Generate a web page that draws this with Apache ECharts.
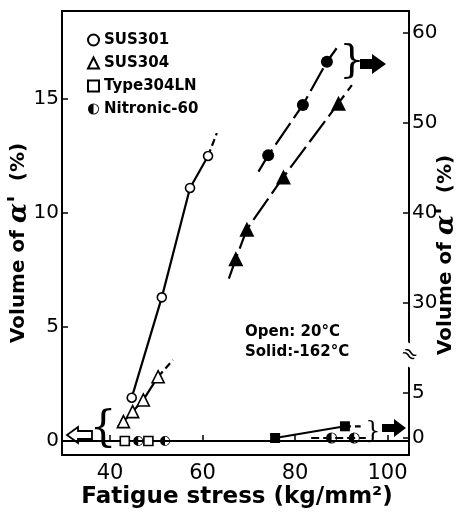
<!DOCTYPE html>
<html>
<head>
<meta charset="utf-8">
<script src="https://cdn.jsdelivr.net/npm/echarts@6/dist/echarts.min.js"></script>
<style>
  html, body { margin: 0; padding: 0; background: #fff; }
  #chart { width: 461px; height: 516px; }
</style>
</head>
<body>
<div id="chart"></div>
<script>
// tick labels
const xTicks = [40, 60, 80, 100];
const leftTicks = [0, 5, 10, 15];
const rightUpperTicks = [30, 40, 50, 60];
const rightLowerTicks = [0, 5];

// Open: 20 C  (left axis, %)
const sus301Open = [[44.7, 1.9], [51.2, 6.3], [57.3, 11.1], [61.2, 12.5]];
const sus304Open = [[42.9, 0.85], [44.9, 1.29], [47.2, 1.8], [50.4, 2.82]];
const ln304Open = [[43.2, 0], [48.3, 0]];
const nitronicOpen = [[46.1, 0], [51.9, 0]];

// Solid: -162 C  (right axis, %)
const sus301Solid = [[74.2, 46.4], [81.7, 52.0], [86.9, 56.8]];
const sus304Solid = [[67.2, 34.9], [69.6, 38.2], [77.5, 44.0], [89.4, 52.2]];
const ln304Solid = [[75.7, 0], [90.8, 1.3]];
const nitronicSolid = [[87.9, 0], [92.8, 0]];

// hand-drawn curves
const sus301OpenCurve = [[44.7, 1.9], [51.2, 6.3], [57.3, 11.1], [61.2, 12.5]];
const sus301OpenTail = [[61.2, 12.5], [63.1, 13.5]];
const sus304OpenCurve = [[41.7, 0.63], [42.9, 0.85], [44.9, 1.29], [47.2, 1.8], [50.4, 2.82]];
const sus304OpenTail = [[50.4, 2.82], [53.6, 3.55]];
const ln304OpenCurve = [[40.9, 0], [51.9, 0]];
const ln304OpenTail = [[51.9, 0], [55.1, 0]];
const sus301SolidCurve = [[72.1, 44.6], [74.2, 46.4], [81.7, 52.0], [86.9, 56.8], [89.0, 58.3]];
const sus304SolidCurve = [[65.7, 32.7], [67.2, 34.9], [69.6, 38.2], [77.5, 44.0], [89.4, 52.2], [92.3, 54.2]];
const ln304SolidCurve = [[75.7, 0], [90.8, 1.3]];
const ln304SolidTail = [[90.8, 1.3], [94.2, 1.3]];
const nitronicSolidCurve = [[83.5, 0], [95.3, 0]];

const FONT = 'DejaVu Sans';
const HALF = 'path://M0,-10 A10,10 0 0 0 0,10 A10,10 0 0 0 0,-10 L0,-8.5 A8.5,8.5 0 0 1 0,8.5 Z';

const chart = echarts.init(document.getElementById('chart'));

function xAx(i, show) {
  return {
    gridIndex: i, type: 'value', min: 29.62, max: 104.65, show: show,
    splitLine: { show: false },
    axisLine: { lineStyle: { color: '#000', width: 2 } },
    axisTick: { inside: true, length: 6, customValues: xTicks, lineStyle: { color: '#000', width: 1.5 } },
    axisLabel: { customValues: xTicks, color: '#000', fontSize: 21, fontFamily: FONT, margin: 8 }
  };
}

function yAx(i, pos, min, max, ticks, line) {
  return {
    gridIndex: i, type: 'value', position: pos, min: min, max: max,
    splitLine: { show: false },
    axisLine: { show: line, lineStyle: { color: '#000', width: 2 } },
    axisTick: { inside: true, length: 6, customValues: ticks, lineStyle: { color: '#000', width: 1.5 } },
    axisLabel: { customValues: ticks, color: '#000', fontSize: 20, fontFamily: FONT, margin: 3 }
  };
}

function curve(data, xi, yi, dash) {
  return {
    type: 'line', data: data, xAxisIndex: xi, yAxisIndex: yi,
    showSymbol: false, symbol: 'none', silent: true,
    lineStyle: { color: '#000', width: 2.2, type: dash || 'solid' }, z: 2
  };
}

function marks(name, data, xi, yi, symbol, size, fill) {
  return {
    type: 'scatter', name: name, data: data, xAxisIndex: xi, yAxisIndex: yi,
    symbol: symbol, symbolSize: size, z: 3,
    itemStyle: { color: fill, borderColor: '#000', borderWidth: fill === '#fff' ? 1.6 : 0, opacity: 1 }
  };
}

const titleStyle = {
  text: 'Volume of {a|α\'}  (%)', fill: '#000', fontSize: 20, fontWeight: 'bold', fontFamily: FONT,
  align: 'center', verticalAlign: 'middle',
  rich: { a: { fontSize: 26, fontStyle: 'italic', fontFamily: 'DejaVu Serif', fontWeight: 'bold' } }
};

const option = {
  animation: false,
  backgroundColor: '#fff',
  grid: [
    { left: 62, right: 52, top: 11, bottom: 61, show: true, borderColor: '#000', borderWidth: 2 },
    { left: 62, right: 52, top: 11, bottom: 161 },
    { left: 62, right: 52, top: 355, bottom: 61 }
  ],
  xAxis: [xAx(0, true), xAx(1, false), xAx(2, false)],
  yAxis: [
    yAx(0, 'left', -0.614, 18.86, leftTicks, true),
    yAx(1, 'right', 24.22, 62.44, rightUpperTicks, false),
    yAx(2, 'right', -1.89, 9.22, rightLowerTicks, false)
  ],
  legend: {
    orient: 'vertical', left: 82, top: 27, itemGap: 7, itemWidth: 11, itemHeight: 11,
    selectedMode: false,
    textStyle: { color: '#000', fontSize: 15, fontWeight: 'bold', fontFamily: FONT, lineHeight: 16 },
    data: [
      { name: 'SUS301', icon: 'circle' },
      { name: 'SUS304', icon: 'triangle' },
      { name: 'Type304LN', icon: 'rect' },
      { name: 'Nitronic-60', icon: HALF }
    ]
  },
  series: [
    curve(sus301OpenCurve, 0, 0),
    curve(sus301OpenTail, 0, 0, [7, 4]),
    curve(sus304OpenCurve, 0, 0),
    curve(sus304OpenTail, 0, 0, [7, 4]),
    curve(ln304OpenCurve, 0, 0),
    curve(ln304OpenTail, 0, 0, [6, 3]),
    curve(sus301SolidCurve, 1, 1, [26, 6]),
    curve(sus304SolidCurve, 1, 1, [26, 6]),
    curve(ln304SolidCurve, 2, 2),
    curve(ln304SolidTail, 2, 2, [6, 4]),
    curve(nitronicSolidCurve, 2, 2, [8, 4]),
    marks('SUS301', sus301Open, 0, 0, 'circle', 9, '#fff'),
    marks('SUS304', sus304Open, 0, 0, 'triangle', 12, '#fff'),
    marks('Type304LN', ln304Open, 0, 0, 'rect', 9, '#fff'),
    marks('Nitronic-60', nitronicOpen, 0, 0, HALF, 10, '#000'),
    marks('SUS301 solid', sus301Solid, 1, 1, 'circle', 12, '#000'),
    marks('SUS304 solid', sus304Solid, 1, 1, 'triangle', 15, '#000'),
    marks('Type304LN solid', ln304Solid, 2, 2, 'rect', 10, '#000'),
    marks('Nitronic-60 solid', nitronicSolid, 2, 2, HALF, 11, '#000')
  ],
  graphic: [
    { type: 'text', x: 19, y: 243, rotation: Math.PI / 2, style: titleStyle },
    { type: 'text', x: 446, y: 255, rotation: Math.PI / 2, style: titleStyle },
    {
      type: 'text', x: 237, y: 497,
      style: { text: 'Fatigue stress (kg/mm²)', fill: '#000', fontSize: 23, fontWeight: 'bold', fontFamily: FONT, align: 'center', verticalAlign: 'middle' }
    },
    {
      type: 'text', x: 245, y: 332,
      style: { text: 'Open: 20°C', fill: '#000', fontSize: 15, fontWeight: 'bold', fontFamily: FONT, verticalAlign: 'middle' }
    },
    {
      type: 'text', x: 245, y: 352,
      style: { text: 'Solid:-162°C', fill: '#000', fontSize: 15, fontWeight: 'bold', fontFamily: FONT, verticalAlign: 'middle' }
    },
    {
      type: 'text', x: 103, y: 430,
      style: { text: '{', fill: '#000', fontSize: 42, fontFamily: 'DejaVu Serif', align: 'center', verticalAlign: 'middle' }
    },
    {
      type: 'polygon',
      shape: { points: [[67, 435], [78, 427], [78, 431], [92, 431], [92, 439], [78, 439], [78, 443]] },
      style: { fill: '#fff', stroke: '#000', lineWidth: 1.8 }
    },
    {
      type: 'text', x: 352, y: 62,
      style: { text: '}', fill: '#000', fontSize: 40, fontFamily: 'DejaVu Serif', align: 'center', verticalAlign: 'middle' }
    },
    {
      type: 'polygon',
      shape: { points: [[360, 59], [372, 59], [372, 54], [386, 64], [372, 74], [372, 69], [360, 69]] },
      style: { fill: '#000' }
    },
    {
      type: 'text', x: 373, y: 432,
      style: { text: '}', fill: '#000', fontSize: 24, fontFamily: 'DejaVu Serif', align: 'center', verticalAlign: 'middle' }
    },
    {
      type: 'polygon',
      shape: { points: [[382, 424], [394, 424], [394, 419], [406, 428], [394, 437], [394, 432], [382, 432]] },
      style: { fill: '#000' }
    },
    {
      type: 'text', x: 409, y: 355, rotation: -0.6,
      style: { text: '≈', fill: '#000', fontSize: 20, fontFamily: FONT, align: 'center', verticalAlign: 'middle', backgroundColor: '#fff' }
    }
  ]
};

chart.setOption(option);
</script>
</body>
</html>
